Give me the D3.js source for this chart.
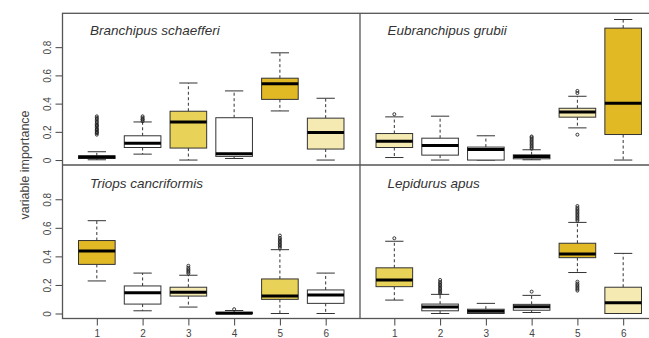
<!DOCTYPE html>
<html>
<head>
<meta charset="utf-8">
<script src="https://cdn.jsdelivr.net/npm/d3@7"></script>
<style>
  body { margin: 0; background: #fff; }
  svg { display: block; font-family: "Liberation Sans", Arial, sans-serif; }
</style>
</head>
<body>
<div id="chart"></div>
<script>
// groups on the x axis and y tick values
const groups = [1, 2, 3, 4, 5, 6];
const yTicks = [0, 0.2, 0.4, 0.6, 0.8];
const species = ["Branchipus schaefferi", "Eubranchipus grubii", "Triops cancriformis", "Lepidurus apus"];

// [lower whisker, Q1, median, Q3, upper whisker] for groups 1..6
const branchipusStats = [
  [0.002, 0.011, 0.021, 0.030, 0.059],
  [0.042, 0.089, 0.120, 0.172, 0.270],
  [0.000, 0.085, 0.270, 0.346, 0.546],
  [0.011, 0.026, 0.045, 0.300, 0.490],
  [0.348, 0.430, 0.540, 0.580, 0.760],
  [0.000, 0.078, 0.195, 0.297, 0.438]
];
const branchipusOutliers = [
  [0.18, 0.19, 0.195, 0.20, 0.21, 0.215, 0.22, 0.23, 0.24, 0.245, 0.25, 0.26, 0.27, 0.28, 0.29, 0.30, 0.31],
  [0.275, 0.285, 0.29, 0.30, 0.31],
  [], [], [], []
];
const branchipusShades = ["none", "none", "mid", "none", "dark", "light"];

const eubranchipusStats = [
  [0.018, 0.089, 0.134, 0.188, 0.306],
  [0.000, 0.035, 0.103, 0.155, 0.311],
  [0.000, 0.000, 0.075, 0.092, 0.172],
  [0.002, 0.009, 0.026, 0.037, 0.073],
  [0.228, 0.304, 0.341, 0.367, 0.452],
  [0.000, 0.181, 0.403, 0.935, 0.996]
];
const eubranchipusOutliers = [
  [0.325],
  [],
  [],
  [0.08, 0.09, 0.10, 0.11, 0.12, 0.13, 0.14, 0.15, 0.16, 0.167],
  [0.475, 0.49, 0.18],
  []
];
const eubranchipusShades = ["light", "none", "none", "none", "light", "dark"];

const triopsStats = [
  [0.228, 0.344, 0.438, 0.511, 0.650],
  [0.019, 0.066, 0.146, 0.193, 0.283],
  [0.045, 0.122, 0.148, 0.184, 0.268],
  [0.000, 0.000, 0.002, 0.009, 0.021],
  [0.000, 0.099, 0.122, 0.242, 0.447],
  [0.000, 0.071, 0.130, 0.165, 0.283]
];
const triopsOutliers = [
  [],
  [],
  [0.28, 0.29, 0.30, 0.31, 0.32, 0.334],
  [0.03],
  [0.46, 0.47, 0.48, 0.49, 0.50, 0.51, 0.52, 0.53, 0.546],
  []
];
const triopsShades = ["dark", "none", "light", "none", "mid", "none"];

const lepidurusStats = [
  [0.094, 0.188, 0.235, 0.320, 0.506],
  [0.000, 0.019, 0.045, 0.066, 0.134],
  [0.000, 0.000, 0.016, 0.030, 0.071],
  [0.007, 0.023, 0.047, 0.064, 0.127],
  [0.287, 0.391, 0.417, 0.492, 0.638],
  [0.000, 0.000, 0.075, 0.184, 0.421]
];
const lepidurusOutliers = [
  [0.527],
  [0.14, 0.15, 0.16, 0.17, 0.18, 0.19, 0.20, 0.21, 0.22, 0.235],
  [],
  [0.153],
  [0.65, 0.66, 0.67, 0.68, 0.69, 0.70, 0.71, 0.72, 0.73, 0.74, 0.753, 0.16, 0.17, 0.18, 0.19, 0.20, 0.21, 0.223],
  []
];
const lepidurusShades = ["mid", "none", "none", "none", "dark", "light"];

const panels = [
  { title: species[0], stats: branchipusStats, outliers: branchipusOutliers, shades: branchipusShades, col: 0, row: 0 },
  { title: species[1], stats: eubranchipusStats, outliers: eubranchipusOutliers, shades: eubranchipusShades, col: 1, row: 0 },
  { title: species[2], stats: triopsStats, outliers: triopsOutliers, shades: triopsShades, col: 0, row: 1 },
  { title: species[3], stats: lepidurusStats, outliers: lepidurusOutliers, shades: lepidurusShades, col: 1, row: 1 }
];

// 1. canvas
const width = 649, height = 338;
const colX = [[62.5, 360], [360, 657.5]];
const rowY = [[165, 13.3], [318.5, 165]];
const boxWidth = 0.8;

const shade = d3.scaleOrdinal()
  .domain(["none", "light", "mid", "dark"])
  .range(["#ffffff", "#f4eab2", "#e8d257", "#e1b925"]);

const svg = d3.select("#chart")
  .append("svg")
  .attr("width", width)
  .attr("height", height);

const fmt = d => d === 0 ? "0" : d3.format(".1f")(d);

// 2. panels
panels.forEach(p => {
  const x = d3.scaleLinear().domain([0.25, 6.75]).range(colX[p.col]);
  const y = d3.scaleLinear().domain([-0.035, 1.04]).range(rowY[p.row]);
  const g = svg.append("g");
  const bw = x(boxWidth) - x(0);

  const boxes = g.selectAll("g.box")
    .data(groups.map((k, i) => ({ k, s: p.stats[i], out: p.outliers[i], shade: p.shades[i] })))
    .join("g")
    .attr("class", "box");

  // whiskers
  boxes.append("line")
    .attr("x1", d => x(d.k)).attr("x2", d => x(d.k))
    .attr("y1", d => y(d.s[3])).attr("y2", d => y(d.s[4]))
    .attr("stroke", "#333").attr("stroke-width", 1).attr("stroke-dasharray", "3,2.5");
  boxes.append("line")
    .attr("x1", d => x(d.k)).attr("x2", d => x(d.k))
    .attr("y1", d => y(d.s[1])).attr("y2", d => y(d.s[0]))
    .attr("stroke", "#333").attr("stroke-width", 1).attr("stroke-dasharray", "3,2.5");

  // staples
  [0, 4].forEach(j => {
    boxes.append("line")
      .attr("x1", d => x(d.k) - bw / 4).attr("x2", d => x(d.k) + bw / 4)
      .attr("y1", d => y(d.s[j])).attr("y2", d => y(d.s[j]))
      .attr("stroke", "#333").attr("stroke-width", 1);
  });

  // box
  boxes.append("rect")
    .attr("x", d => x(d.k) - bw / 2)
    .attr("width", bw)
    .attr("y", d => y(d.s[3]))
    .attr("height", d => Math.max(0.5, y(d.s[1]) - y(d.s[3])))
    .attr("fill", d => shade(d.shade))
    .attr("stroke", "#333")
    .attr("stroke-width", 1);

  // median
  boxes.append("line")
    .attr("x1", d => x(d.k) - bw / 2).attr("x2", d => x(d.k) + bw / 2)
    .attr("y1", d => y(d.s[2])).attr("y2", d => y(d.s[2]))
    .attr("stroke", "#000").attr("stroke-width", 3);

  // outliers
  boxes.selectAll("circle")
    .data(d => d.out.map(v => ({ k: d.k, v })))
    .join("circle")
    .attr("cx", d => x(d.k))
    .attr("cy", d => y(d.v))
    .attr("r", 1.5)
    .attr("fill", "none")
    .attr("stroke", "#222")
    .attr("stroke-width", 0.9);

  // title
  g.append("text")
    .attr("x", x(0.25) + 27.5)
    .attr("y", p.row === 0 ? 34.5 : 188)
    .attr("font-size", 13.5)
    .attr("font-style", "italic")
    .attr("fill", "#333")
    .text(p.title);

  // y axis on left panels
  if (p.col === 0) {
    const ay = g.append("g")
      .attr("transform", `translate(${colX[0][0]},0)`)
      .call(d3.axisLeft(y).tickValues(yTicks).tickSize(7).tickFormat(fmt));
    ay.select(".domain").remove();
    ay.selectAll(".tick line").attr("stroke", "#444");
    ay.selectAll(".tick text")
      .attr("x", 0).attr("y", -11.5).attr("dy", 0)
      .attr("transform", "rotate(-90)")
      .attr("text-anchor", "middle")
      .attr("font-size", 10)
      .attr("fill", "#444")
      .attr("font-family", "Liberation Sans, Arial, sans-serif");
  }

  // x axis on bottom panels
  if (p.row === 1) {
    const ax = g.append("g")
      .attr("transform", `translate(0,${rowY[1][0]})`)
      .call(d3.axisBottom(x).tickValues(groups).tickSize(7).tickFormat(d3.format("d")));
    ax.select(".domain").remove();
    ax.selectAll(".tick line").attr("stroke", "#444");
    ax.selectAll(".tick text")
      .attr("y", 11)
      .attr("font-size", 10)
      .attr("fill", "#444")
      .attr("font-family", "Liberation Sans, Arial, sans-serif");
  }
});

// 3. frame and dividers
const frame = svg.append("g").attr("fill", "none").attr("stroke", "#555").attr("stroke-width", 1.3);
frame.append("rect")
  .attr("x", colX[0][0]).attr("y", rowY[0][1])
  .attr("width", colX[1][1] - colX[0][0])
  .attr("height", rowY[1][0] - rowY[0][1]);
frame.append("line")
  .attr("x1", colX[0][1]).attr("x2", colX[0][1])
  .attr("y1", rowY[0][1]).attr("y2", rowY[1][0]);
frame.append("line")
  .attr("x1", colX[0][0]).attr("x2", colX[1][1])
  .attr("y1", rowY[0][0]).attr("y2", rowY[0][0]);

// y axis title
svg.append("text")
  .attr("transform", `translate(29,${rowY[0][0]}) rotate(-90)`)
  .attr("text-anchor", "middle")
  .attr("font-size", 12.5)
  .attr("fill", "#444")
  .text("variable importance");
</script>
</body>
</html>
